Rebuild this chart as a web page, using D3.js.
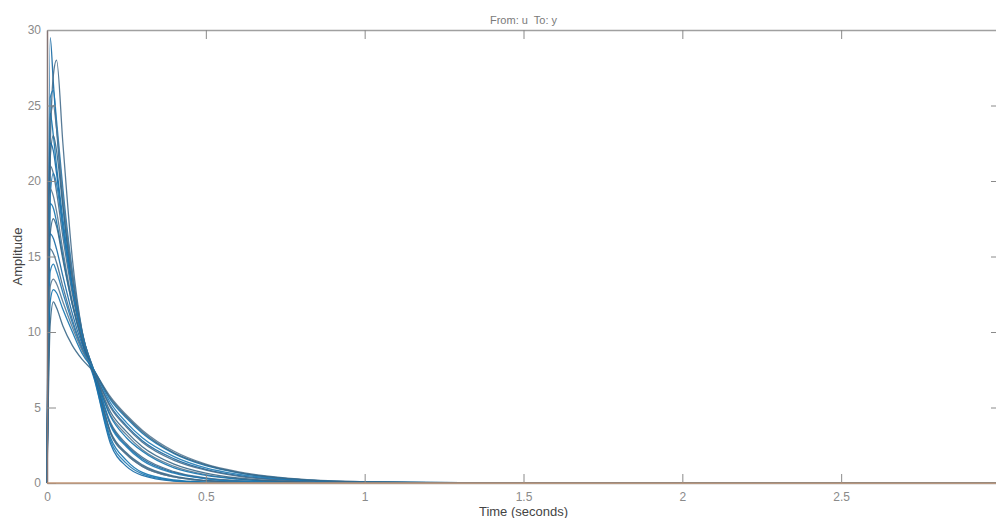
<!DOCTYPE html>
<html>
<head>
<meta charset="utf-8">
<script src="https://cdn.jsdelivr.net/npm/d3@7"></script>
<style>
  body { margin: 0; background: #fff; }
  svg { display: block; font-family: "Liberation Sans", Arial, sans-serif; }
  .tick text { fill: #8a8a8a; font-size: 12px; }
</style>
</head>
<body>
<div id="chart"></div>
<script>
// time grid (seconds) the responses were read at
var times = [0, 0.01, 0.02, 0.03, 0.05, 0.08, 0.11, 0.15, 0.2, 0.25, 0.3, 0.4, 0.5, 0.6, 0.8, 1.0, 1.3, 3.0];

// impulse responses, one row per sampled system
var responses = [
  [0, 29.5, 26.5, 23.5, 18.5, 13.0, 9.5, 6.8, 2.6, 1.1, 0.5, 0.12, 0.03, 0.01, 0, 0, 0, 0],
  [0, 22.0, 27.0, 28.0, 22.5, 14.8, 10.1, 7.3, 3.3, 1.9, 1.1, 0.4, 0.15, 0.05, 0.01, 0, 0, 0],
  [0, 25.5, 26.0, 24.0, 19.5, 14.0, 10.1, 6.9, 2.8, 1.3, 0.6, 0.15, 0.04, 0.01, 0, 0, 0, 0],
  [0, 24.0, 25.0, 23.5, 19.0, 13.8, 10.0, 7.1, 3.3, 1.9, 1.1, 0.4, 0.15, 0.05, 0.01, 0, 0, 0],
  [0, 24.5, 23.0, 21.0, 17.5, 13.0, 9.7, 7.0, 3.0, 1.5, 0.7, 0.2, 0.06, 0.02, 0, 0, 0, 0],
  [0, 21.5, 23.0, 22.0, 18.3, 13.5, 10.0, 7.2, 3.4, 2.0, 1.2, 0.45, 0.17, 0.06, 0.01, 0, 0, 0],
  [0, 22.5, 22.0, 20.5, 17.0, 12.8, 9.7, 7.1, 3.9, 2.5, 1.6, 0.7, 0.3, 0.13, 0.03, 0.01, 0, 0],
  [0, 21.0, 20.5, 19.3, 16.3, 12.5, 9.6, 7.2, 4.0, 2.6, 1.7, 0.75, 0.33, 0.15, 0.03, 0.01, 0, 0],
  [0, 19.0, 20.5, 19.8, 16.8, 12.8, 9.8, 7.3, 3.8, 2.4, 1.5, 0.65, 0.28, 0.12, 0.03, 0.01, 0, 0],
  [0, 19.5, 19.0, 18.0, 15.4, 12.0, 9.5, 7.2, 4.5, 3.2, 2.2, 1.1, 0.55, 0.28, 0.07, 0.02, 0, 0],
  [0, 18.5, 18.2, 17.3, 15.0, 11.8, 9.4, 7.2, 4.4, 3.0, 2.1, 1.0, 0.5, 0.25, 0.06, 0.02, 0, 0],
  [0, 16.5, 17.5, 17.0, 14.8, 11.8, 9.5, 7.3, 4.7, 3.4, 2.4, 1.25, 0.65, 0.33, 0.09, 0.03, 0, 0],
  [0, 16.5, 16.2, 15.5, 13.7, 11.2, 9.2, 7.3, 5.1, 3.8, 2.8, 1.6, 0.9, 0.5, 0.15, 0.05, 0.01, 0],
  [0, 15.5, 15.2, 14.6, 13.0, 10.8, 9.0, 7.3, 5.0, 3.7, 2.7, 1.5, 0.85, 0.45, 0.13, 0.04, 0.01, 0],
  [0, 14.0, 14.5, 14.0, 12.6, 10.6, 8.9, 7.4, 5.3, 4.0, 3.0, 1.75, 1.0, 0.58, 0.18, 0.06, 0.01, 0],
  [0, 13.0, 13.5, 13.2, 12.0, 10.3, 8.8, 7.4, 5.7, 4.5, 3.5, 2.1, 1.25, 0.75, 0.25, 0.08, 0.02, 0],
  [0, 12.0, 12.8, 12.6, 11.5, 10.0, 8.6, 7.4, 5.5, 4.3, 3.3, 1.95, 1.15, 0.68, 0.22, 0.07, 0.02, 0],
  [0, 10.5, 12.0, 11.6, 10.4, 9.1, 8.2, 7.3, 5.6, 4.4, 3.4, 2.0, 1.2, 0.7, 0.23, 0.07, 0.02, 0]
];

var xTicks = [0, 0.5, 1, 1.5, 2, 2.5];
var yTicks = [0, 5, 10, 15, 20, 25, 30];

var lineColors = ["#1668a3", "#466d8c", "#1f79b3", "#587891", "#1372ad", "#3a6888"];

var width = 996,
    height = 518,
    margin = {top: 30, right: -4, bottom: 35, left: 47};

var svg = d3.select("#chart").append("svg")
    .attr("width", width)
    .attr("height", height);

var x = d3.scaleLinear()
    .domain([0, 3])
    .range([margin.left, width - margin.right]);

var y = d3.scaleLinear()
    .domain([0, 30])
    .range([height - margin.bottom, margin.top]);

var line = d3.line()
    .x(function(d, i) { return x(times[i]); })
    .y(function(d) { return y(d); })
    .curve(d3.curveMonotoneX);

svg.append("g")
  .selectAll("path")
  .data(responses)
  .enter().append("path")
    .attr("d", line)
    .attr("fill", "none")
    .attr("stroke", function(d, i) { return lineColors[i % lineColors.length]; })
    .attr("stroke-width", 1.3)
    .attr("stroke-opacity", 0.9);

// axes, ticks point inward like MATLAB
var gBottom = svg.append("g")
    .attr("transform", "translate(0," + y(0) + ")")
    .call(d3.axisBottom(x).tickValues(xTicks).tickFormat(function(d) { return d; })
      .tickSizeInner(-9).tickSizeOuter(0).tickPadding(9));

var gLeft = svg.append("g")
    .attr("transform", "translate(" + x(0) + ",0)")
    .call(d3.axisLeft(y).tickValues(yTicks).tickSizeInner(-9).tickSizeOuter(0).tickPadding(6));

var gTop = svg.append("g")
    .attr("transform", "translate(0," + y(30) + ")")
    .call(d3.axisTop(x).tickValues(xTicks.slice(1)).tickFormat("").tickSizeInner(-9).tickSizeOuter(0));

var gRight = svg.append("g")
    .attr("transform", "translate(" + x(3) + ",0)")
    .call(d3.axisRight(y).tickValues(yTicks.slice(1, 6)).tickFormat("").tickSizeInner(-9).tickSizeOuter(0));

[gBottom, gLeft, gTop, gRight].forEach(function(g) {
  g.selectAll(".domain").attr("stroke", "#a0a0a0").attr("stroke-width", 1.3);
  g.selectAll(".tick line").attr("stroke", "#8a8a8a");
});
gLeft.select(".domain").attr("stroke", "#857575").attr("stroke-width", 1.5);

// orange zero line drawn over the curves and the axis
svg.append("line")
    .attr("x1", x(0)).attr("x2", x(3))
    .attr("y1", y(0)).attr("y2", y(0))
    .attr("stroke", "#c4926e")
    .attr("stroke-opacity", 0.85)
    .attr("stroke-width", 1.5);

svg.append("text")
    .attr("x", (x(0) + x(3)) / 2)
    .attr("y", 24)
    .attr("text-anchor", "middle")
    .attr("fill", "#7a7a7a")
    .style("font-size", "11px")
    .style("white-space", "pre")
    .text("From: u  To: y");

svg.append("text")
    .attr("x", (x(0) + x(3)) / 2)
    .attr("y", 516)
    .attr("text-anchor", "middle")
    .attr("fill", "#444")
    .style("font-size", "13px")
    .text("Time (seconds)");

svg.append("text")
    .attr("transform", "translate(22," + y(15) + ") rotate(-90)")
    .attr("text-anchor", "middle")
    .attr("fill", "#444")
    .style("font-size", "13px")
    .text("Amplitude");
</script>
</body>
</html>
